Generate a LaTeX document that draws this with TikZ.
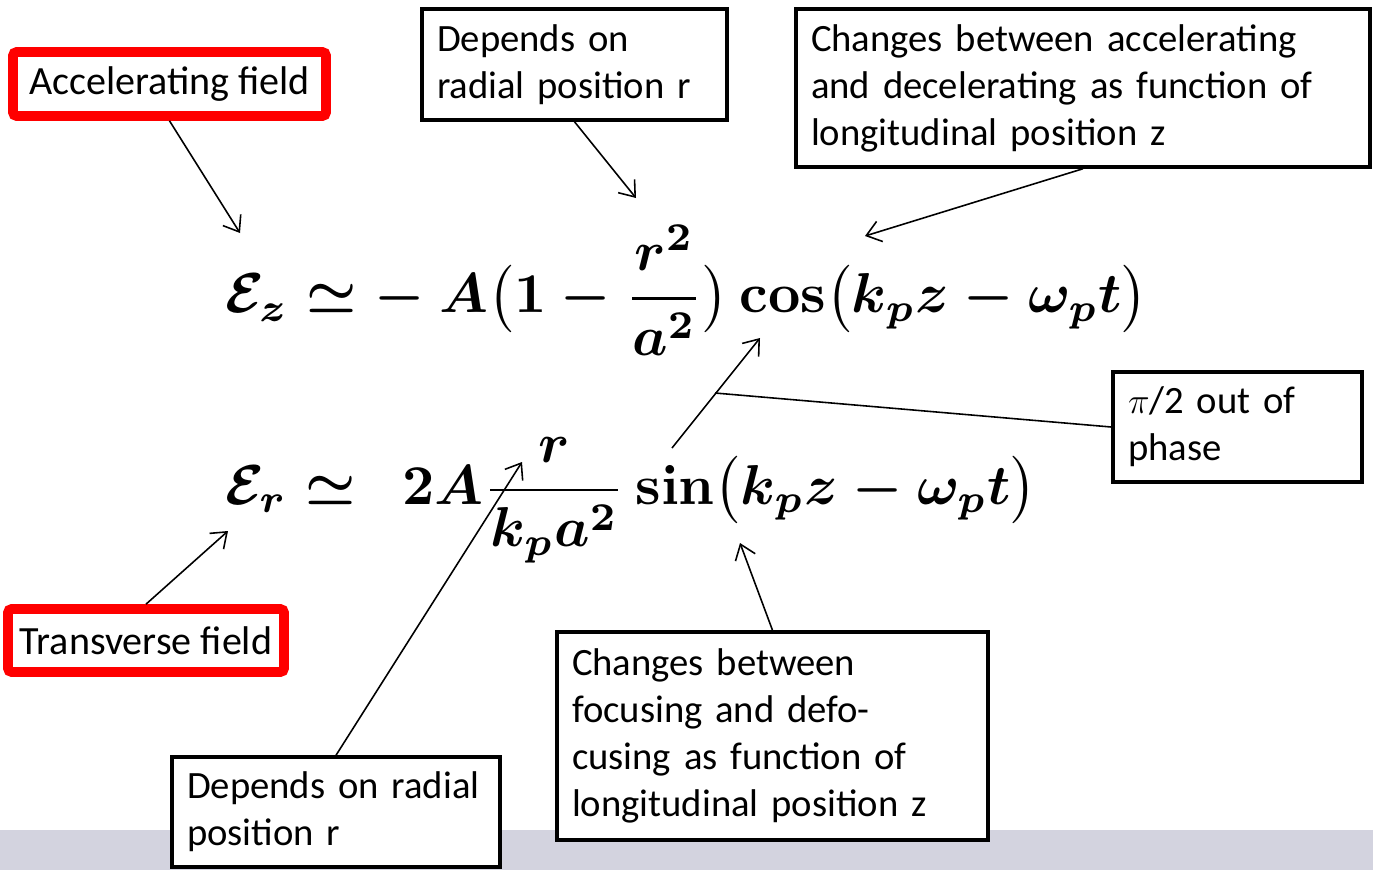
\documentclass[tikz,border=0pt]{standalone}
\usepackage[no-math]{fontspec}
\setmainfont{Carlito}
\usepackage{graphicx}
\usetikzlibrary{arrows.meta}

\definecolor{barcol}{RGB}{211,211,223}
\tikzset{
  note/.style={draw, line width=2pt, fill=white, align=left, inner sep=0pt},
  redbox/.style={draw=red, line width=5.5pt, rounded corners=2pt, fill=white, align=center, inner sep=0pt,
    font=\fontsize{22.8}{27}\selectfont},
  pointer/.style={-{Straight Barb[length=8pt,width=12pt]}, line width=0.9pt},
  formula/.style={anchor=west, inner sep=0pt, font=\fontsize{10}{12}\selectfont},
}
\newcommand{\eqscale}{3.2}

\begin{document}
\begin{tikzpicture}[x=0.02cm, y=-0.02cm, font=\fontsize{22}{26.7}\selectfont]
  \useasboundingbox (0,0) rectangle (1373,870);
  \fill[barcol] (0,830) rectangle (1373,870);

  % the two field components
  \node[formula] (eqz) at (225,290)
    {\scalebox{\eqscale}{\boldmath$\displaystyle \mathcal{E}_z \simeq -\:A\bigl(1-\frac{r^2}{a^2}\bigr)\cos\bigl(k_pz-\omega_pt\bigr)$}};
  \node[formula] (eqr) at (225,500)
    {\scalebox{\eqscale}{\boldmath$\displaystyle \mathcal{E}_r \simeq\;\, 2A\frac{r}{k_pa^2}\sin\bigl(k_pz-\omega_pt\bigr)$}};

  % labels
  \node[redbox, minimum width=6.26cm, minimum height=1.28cm] (accel) at (169.5,84) {Accelerating field};
  \node[redbox, minimum width=5.52cm, minimum height=1.26cm] (trans) at (146,640.5) {Transverse field};
  \node[note, minimum width=6.1cm, minimum height=2.22cm, text width=5.5cm] (radtop) at (574.5,64.5)
    {Depends on\\radial position r};
  \node[note, minimum width=11.48cm, minimum height=3.16cm, text width=10.88cm] (accdec) at (1083,88)
    {Changes between accelerating\\and decelerating as function of\\longitudinal position z};
  \node[note, minimum width=4.98cm, minimum height=2.2cm, text width=4.38cm] (phase) at (1237.5,427)
    {$\pi$/2 out of\\phase};
  \node[note, minimum width=6.56cm, minimum height=2.2cm, text width=5.96cm] (radbot) at (336,812)
    {Depends on radial\\position r};
  \node[note, minimum width=8.62cm, minimum height=4.16cm, text width=8.02cm] (focus) at (772.5,736)
    {Changes between\\focusing and defo-\\cusing as function of\\longitudinal position z};

  % points on the equations
  \coordinate (ezpt) at (240,233);
  \coordinate (rsq) at (636,198);
  \coordinate (cosarg) at (865,236);
  \coordinate (costop) at (760,338);
  \coordinate (sinbot) at (672,448);
  \coordinate (midpt) at (715,393);
  \coordinate (erpt) at (228,531);
  \coordinate (rlin) at (522,462);
  \coordinate (sinarg) at (740,543);

  \draw[pointer] (accel.south) -- (ezpt);
  \draw[pointer] (radtop.south) -- (rsq);
  \draw[pointer] (accdec.south) -- (cosarg);
  \draw[pointer, {Straight Barb[length=8pt,width=12pt]}-] (costop) -- (sinbot);
  \draw[line width=0.9pt] (phase.west) -- (midpt);
  \draw[pointer] (trans.north) -- (erpt);
  \draw[pointer] (radbot.north) -- (rlin);
  \draw[pointer] (focus.north) -- (sinarg);
\end{tikzpicture}
\end{document}
